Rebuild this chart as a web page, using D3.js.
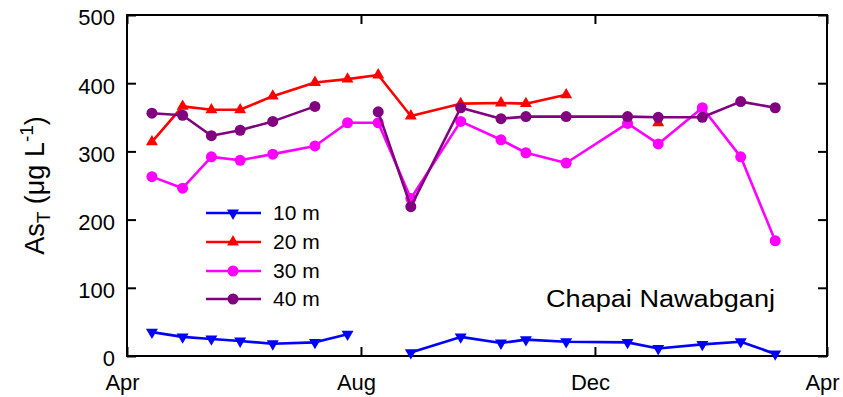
<!DOCTYPE html>
<html>
<head>
<meta charset="utf-8">
<script src="https://cdn.jsdelivr.net/npm/d3@7"></script>
<style>
  html, body { margin: 0; padding: 0; background: #fff; }
  svg { display: block; font-family: "Liberation Sans", Arial, sans-serif; }
</style>
</head>
<body>
<svg id="chart" width="843" height="397"></svg>
<script>
// ---- data ----
const dates = ["2005-04-14","2005-04-30","2005-05-15","2005-05-30","2005-06-16","2005-07-08",
               "2005-07-25","2005-08-10","2005-08-27","2005-09-22","2005-10-13","2005-10-26",
               "2005-11-16","2005-12-18","2006-01-03","2006-01-26","2006-02-15","2006-03-05"];
const as10 = [35, 28, 25, 22, 18, 20, 32, null, 5, 28, 19, 24, 21, 20, 11, 17, 21, 3];
const as20 = [314, 366, 361, 361, 381, 401, 406, 412, 352, 370, 371, 370, 383, null, 342, null, null, null];
const as30 = [263, 246, 292, 287, 296, 308, 342, 342, 231, 344, 317, 298, 283, 341, 311, 364, 292, 169];
const as40 = [356, 353, 323, 331, 344, 366, null, 358, 219, 364, 348, 351, 351, 351, 350, 350, 373, 364];
const seriesNames = ["10 m", "20 m", "30 m", "40 m"];
const xTickDates = ["2005-04-01", "2005-08-01", "2005-12-01", "2006-04-01"];
const yTicks = [0, 100, 200, 300, 400, 500];
const stationName = "Chapai Nawabganj";

// ---- styles ----
const colors = ["#0000ff", "#ff0000", "#ff00ff", "#800080"];
const markers = ["down", "up", "circle", "circle"];

const parse = d3.utcParse("%Y-%m-%d");
const svg = d3.select("#chart");
const L = 127, R = 827, T = 15, B = 356;

const x = d3.scaleUtc().domain([parse(xTickDates[0]), parse(xTickDates[3])]).range([L, R]);
const y = d3.scaleLinear().domain([0, 500]).range([B, T]);

const allSeries = [as10, as20, as30, as40].map((vals, i) => ({
  name: seriesNames[i], color: colors[i], marker: markers[i],
  pts: vals.map((v, j) => ({ d: parse(dates[j]), v }))
}));

// axes (inward ticks, mirrored)
const tickLen = 9;
const xVals = xTickDates.map(parse);
const fmt = d3.utcFormat("%b");
const gxB = svg.append("g").attr("transform", `translate(0,${B})`)
  .call(d3.axisBottom(x).tickValues(xVals).tickFormat(fmt).tickSizeInner(-tickLen).tickSizeOuter(0).tickPadding(20));
const gxT = svg.append("g").attr("transform", `translate(0,${T})`)
  .call(d3.axisTop(x).tickValues(xVals).tickFormat("").tickSizeInner(-tickLen).tickSizeOuter(0));
const gyL = svg.append("g").attr("transform", `translate(${L},0)`)
  .call(d3.axisLeft(y).tickValues(yTicks).tickSizeInner(-tickLen).tickSizeOuter(0).tickPadding(12));
const gyR = svg.append("g").attr("transform", `translate(${R},0)`)
  .call(d3.axisRight(y).tickValues(yTicks).tickFormat("").tickSizeInner(-tickLen).tickSizeOuter(0));

[gxB, gxT, gyL, gyR].forEach(g => {
  g.select(".domain").remove();
  g.selectAll(".tick line").attr("stroke", "#000").attr("stroke-width", 2);
  g.selectAll("text").attr("fill", "#000").attr("font-size", 22)
    .attr("font-family", "'Liberation Sans', Arial, sans-serif");
});
gxB.selectAll("text").attr("dx", -5).attr("dy", "0.71em").attr("y", 18);
gyL.selectAll("text").attr("dy", "0.45em").attr("x", -12);

// frame
svg.append("rect").attr("x", L).attr("y", T).attr("width", R - L).attr("height", B - T)
  .attr("fill", "none").attr("stroke", "#000").attr("stroke-width", 2);

// lines
const line = d3.line().defined(p => p.v != null).x(p => x(p.d)).y(p => y(p.v));
const tri = d3.symbol().type(d3.symbolTriangle).size(62);

function drawMarker(g, s, cx, cy) {
  if (s.marker === "circle") {
    g.append("circle").attr("cx", cx).attr("cy", cy).attr("r", 5.5).attr("fill", s.color);
  } else {
    g.append("path").attr("d", tri())
      .attr("transform", `translate(${cx},${cy})` + (s.marker === "down" ? " rotate(180)" : ""))
      .attr("fill", s.color);
  }
}

allSeries.forEach(s => {
  const g = svg.append("g");
  g.append("path").datum(s.pts).attr("d", line)
    .attr("fill", "none").attr("stroke", s.color).attr("stroke-width", 2.6)
    .attr("stroke-linejoin", "round");
  s.pts.filter(p => p.v != null).forEach(p => drawMarker(g, s, x(p.d), y(p.v)));
});

// legend
const legY = [213, 242, 271, 299];
allSeries.forEach((s, i) => {
  const g = svg.append("g");
  g.append("line").attr("x1", 206).attr("x2", 261).attr("y1", legY[i]).attr("y2", legY[i])
    .attr("stroke", s.color).attr("stroke-width", 2.6);
  drawMarker(g, s, 233, legY[i]);
  g.append("text").attr("x", 273).attr("y", legY[i] + 7).attr("font-size", 21)
    .attr("fill", "#000").text(s.name);
});

// station label
svg.append("text").attr("x", 546).attr("y", 307).attr("font-size", 23)
  .attr("textLength", 229).attr("lengthAdjust", "spacingAndGlyphs")
  .attr("fill", "#000").text(stationName);

// y axis title
const yt = svg.append("text").attr("transform", `translate(44,${(T + B) / 2}) rotate(-90)`)
  .attr("text-anchor", "middle").attr("font-size", 27).attr("fill", "#000");
yt.append("tspan").text("As");
yt.append("tspan").attr("font-size", 19).attr("dy", 6).text("T");
yt.append("tspan").attr("dy", -6).text(" (μg L");
yt.append("tspan").attr("font-size", 19).attr("dy", -11).text("-1");
yt.append("tspan").attr("dy", 11).text(")");
</script>
</body>
</html>
